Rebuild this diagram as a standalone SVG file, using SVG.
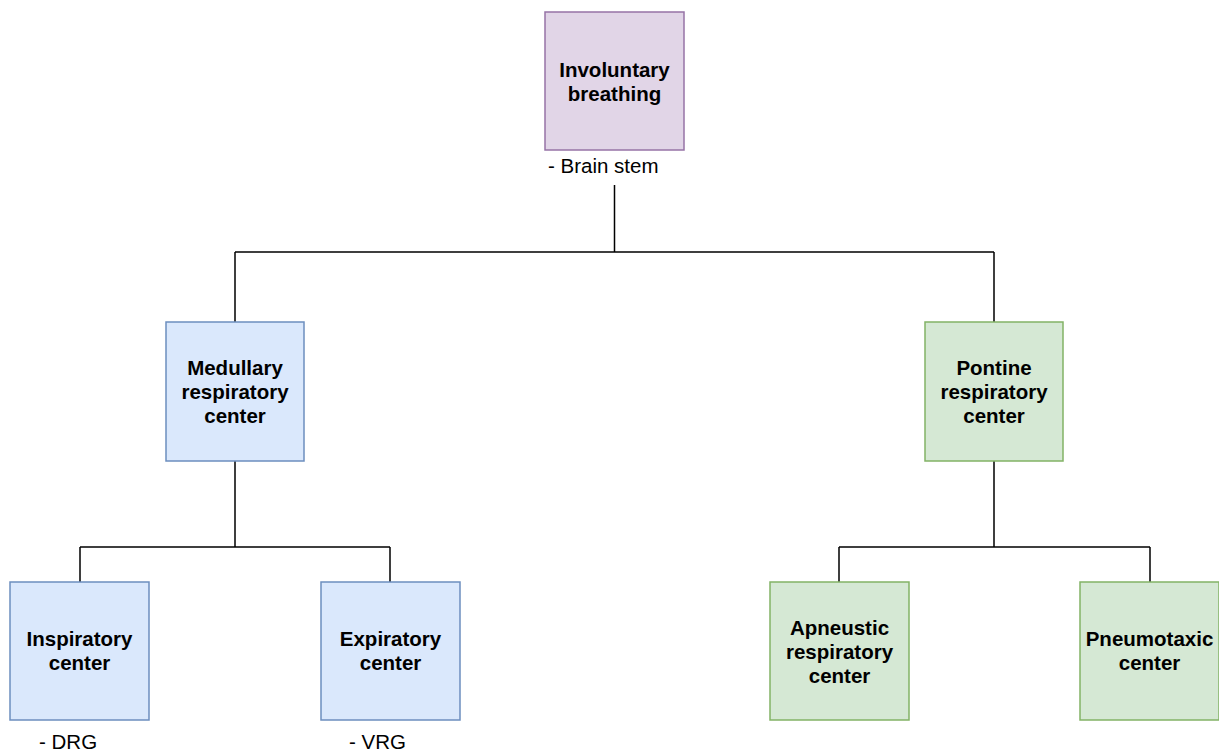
<svg xmlns="http://www.w3.org/2000/svg" width="1219" height="753" viewBox="0 0 1219 753">
<style>
.n{stroke-width:1.5}
.p{fill:#e1d5e7;stroke:#9673a6}
.b{fill:#dae8fc;stroke:#6c8ebf}
.g{fill:#d5e8d4;stroke:#82b366}
.t{font-family:"Liberation Sans",Arial,sans-serif;font-size:20.5px;font-weight:bold;fill:#000;text-anchor:middle}
.l{font-family:"Liberation Sans",Arial,sans-serif;font-size:20.5px;fill:#000}
.c{fill:none;stroke:#000;stroke-width:1.5}
</style>
<rect width="1219" height="753" fill="#fff"/>
<g id="connectors">
<path class="c" d="M614.5 185V252M235 252H994M235 252V322M994 252V322"/>
<path class="c" d="M235 461V547M80 547H390M80 547V582M390 547V582"/>
<path class="c" d="M994 461V547M839 547H1150M839 547V582M1150 547V582"/>
</g>
<g id="involuntary">
<rect class="n p" x="545" y="12" width="139" height="138"/>
<text class="t" x="614.5" y="77">Involuntary</text>
<text class="t" x="614.5" y="101">breathing</text>
<text class="l" x="548" y="173">- Brain stem</text>
</g>
<g id="medullary">
<rect class="n b" x="166" y="322" width="138" height="139"/>
<text class="t" x="235" y="375">Medullary</text>
<text class="t" x="235" y="399">respiratory</text>
<text class="t" x="235" y="423">center</text>
</g>
<g id="pontine">
<rect class="n g" x="925" y="322" width="138" height="139"/>
<text class="t" x="994" y="375">Pontine</text>
<text class="t" x="994" y="399">respiratory</text>
<text class="t" x="994" y="423">center</text>
</g>
<g id="inspiratory">
<rect class="n b" x="10" y="582" width="139" height="138"/>
<text class="t" x="79.5" y="646">Inspiratory</text>
<text class="t" x="79.5" y="670">center</text>
<text class="l" x="39" y="749">- DRG</text>
</g>
<g id="expiratory">
<rect class="n b" x="321" y="582" width="139" height="138"/>
<text class="t" x="390.5" y="646">Expiratory</text>
<text class="t" x="390.5" y="670">center</text>
<text class="l" x="349" y="749">- VRG</text>
</g>
<g id="apneustic">
<rect class="n g" x="770" y="582" width="139" height="138"/>
<text class="t" x="839.5" y="635">Apneustic</text>
<text class="t" x="839.5" y="659">respiratory</text>
<text class="t" x="839.5" y="683">center</text>
</g>
<g id="pneumotaxic">
<rect class="n g" x="1080" y="582" width="139" height="138"/>
<text class="t" x="1149.5" y="646">Pneumotaxic</text>
<text class="t" x="1149.5" y="670">center</text>
</g>
</svg>
